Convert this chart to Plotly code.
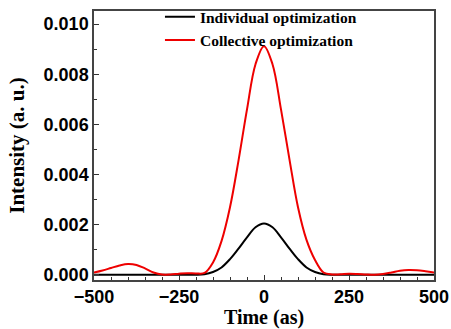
import plotly.graph_objects as go

time_as = [-500, -475, -450, -425, -400, -375, -350, -325, -300, -275, -250, -225, -200, -175,
           -150, -125, -100, -75, -50, -25, 0, 25, 50, 75, 100, 125, 150, 175,
           200, 225, 250, 275, 300, 325, 350, 375, 400, 425, 450, 475, 500]

individual = [0.00001, 0.00001, 0.00001, 0.00001, 0.00001, 0.00001, 0.00001, 0.00001, 0.00001, 0.00001,
              0.00001, 0.00001, 0.00001, 0.00003,
              0.00012, 0.0003, 0.00063, 0.00105, 0.0015, 0.0019, 0.00205, 0.0019, 0.0015, 0.00105,
              0.00063, 0.0003, 0.00012, 0.00003,
              0.00001, 0.00001, 0.00001, 0.00001, 0.00001, 0.00001, 0.00001, 0.00001, 0.00001,
              0.00001, 0.00001, 0.00001, 0.00001]

collective = [0.0001, 0.00018, 0.00028, 0.00038, 0.00044, 0.0004, 0.00026, 0.0001, 0.00002, 0.00002,
              0.00005, 0.00007, 0.00006, 0.00008,
              0.0005, 0.00135, 0.0027, 0.00456, 0.0066, 0.0084, 0.00912, 0.0084, 0.0066, 0.0046,
              0.0027, 0.0014, 0.0006, 0.0001,
              0.00002, 0.00003, 0.00005, 0.00004, 0.00002, 0.00001, 0.00004, 0.0001, 0.00017,
              0.0002, 0.00019, 0.00015, 0.0001]

fig = go.Figure()
fig.add_trace(go.Scatter(x=time_as, y=individual, mode="lines", name="Individual optimization",
                         line=dict(color="black", width=2, shape="spline", smoothing=1.0)))
fig.add_trace(go.Scatter(x=time_as, y=collective, mode="lines", name="Collective optimization",
                         line=dict(color="#ee0000", width=2, shape="spline", smoothing=1.0)))

tickfont = dict(family="Liberation Sans, Arial", size=18, color="black", weight="bold")
titlefont = dict(family="Liberation Serif, Times New Roman", size=20, color="black", weight="bold")

fig.update_layout(
    width=451, height=329,
    margin=dict(l=94, r=17, t=11, b=49, autoexpand=False),
    paper_bgcolor="white", plot_bgcolor="white",
    showlegend=True,
    legend=dict(x=0.194, y=1.04, xanchor="left", yanchor="top", bgcolor="rgba(0,0,0,0)",
                font=dict(family="Liberation Serif, Times New Roman", size=15.5, color="black", weight="bold"),
                tracegroupgap=0, itemwidth=30),
)
fig.update_xaxes(
    range=[-500, 500], tickmode="array", tickvals=[-500, -250, 0, 250, 500],
    ticks="inside", ticklen=5, tickwidth=1.2, tickcolor="#333",
    minor=dict(ticks="inside", ticklen=3, dtick=50, tickcolor="#333", tickwidth=1),
    showline=True, linecolor="#444", linewidth=1.5, mirror=True,
    showgrid=False, zeroline=False, tickfont=tickfont, automargin=False,
    title=dict(text="Time (as)", font=titlefont, standoff=2),
)
fig.update_yaxes(
    range=[-0.0002, 0.01052], tick0=0, dtick=0.002, tickformat=".3f",
    ticks="inside", ticklen=5, tickwidth=1.2, tickcolor="#333",
    minor=dict(ticks="inside", ticklen=3, dtick=0.001, tickcolor="#333", tickwidth=1),
    showline=True, linecolor="#444", linewidth=1.5, mirror=True,
    showgrid=False, zeroline=False, tickfont=tickfont, automargin=False,
    title=dict(text="Intensity (a. u.)", font=dict(family="Liberation Serif, Times New Roman", size=21,
                                                  color="black", weight="bold"), standoff=13),
)

fig.write_html("out.html")
